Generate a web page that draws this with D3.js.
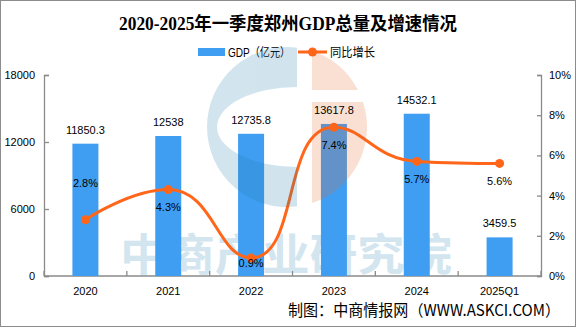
<!DOCTYPE html>
<html>
<head>
<meta charset="utf-8">
<script src="https://cdn.jsdelivr.net/npm/d3@7/dist/d3.min.js"></script>
<style>
  html, body { margin: 0; padding: 0; background: #fff; }
  svg { display: block; }
  text { font-family: "Liberation Sans", "Noto Sans CJK SC", sans-serif; fill: #000; }
</style>
</head>
<body>
<svg id="chart" width="576" height="327"></svg>
<script>
// ---- data ----
const categories = ["2020", "2021", "2022", "2023", "2024", "2025Q1"];
const gdpValues = [11850.3, 12538, 12735.8, 13617.8, 14532.1, 3459.5];
const gdpLabels = ["11850.3", "12538", "12735.8", "13617.8", "14532.1", "3459.5"];
const growthValues = [2.8, 4.3, 0.9, 7.4, 5.7, 5.6];
const growthLabels = ["2.8%", "4.3%", "0.9%", "7.4%", "5.7%", "5.6%"];
const leftTicks = [0, 6000, 12000, 18000];
const rightTicks = [0, 2, 4, 6, 8, 10];
const titleText = "2020-2025年一季度郑州GDP总量及增速情况";
const legendBar = "GDP（亿元）";
const legendLine = "同比增长";
const creditText = "制图：中商情报网（WWW.ASKCI.COM）";
const watermarkText = "中商产业研究院";

// ---- style / layout ----
const W = 576, H = 327;
const M = { left: 44, right: 541, top: 75, bottom: 276 };
const barColor = "#409EF2";
const lineColor = "#FF661A";
const axisColor = "#8a8a8a";
const growthLabelDy = [-37, 17, 5, 18, 18, 18];

const svg = d3.select("#chart");

// border
svg.append("rect").attr("x", 0.5).attr("y", 0.5).attr("width", W - 1).attr("height", H - 1)
  .attr("fill", "#fff").attr("stroke", "#8c8c8c").attr("stroke-width", 1);

const x = d3.scaleBand().domain(categories).range([M.left, M.right]).paddingInner(0).paddingOuter(0);
const yL = d3.scaleLinear().domain([0, 18000]).range([M.bottom, M.top]);
const yR = d3.scaleLinear().domain([0, 10]).range([M.bottom, M.top]);
const barW = x.bandwidth() * 0.314;
const cx = d => x(d) + x.bandwidth() / 2;

// title
svg.append("text").attr("x", 288).attr("y", 30).attr("text-anchor", "middle")
  .attr("font-size", 18).attr("font-weight", "bold")
  .attr("textLength", 338).attr("lengthAdjust", "spacingAndGlyphs")
  .style("font-family", "'Liberation Serif', 'Noto Sans CJK SC', serif")
  .text(titleText);

// legend
svg.append("rect").attr("x", 198).attr("y", 48).attr("width", 27).attr("height", 8).attr("fill", barColor);
svg.append("text").attr("x", 228).attr("y", 57).attr("font-size", 12)
  .attr("textLength", 62).attr("lengthAdjust", "spacingAndGlyphs").text(legendBar);
svg.append("line").attr("x1", 298).attr("x2", 327).attr("y1", 52).attr("y2", 52)
  .attr("stroke", lineColor).attr("stroke-width", 3);
svg.append("circle").attr("cx", 312.5).attr("cy", 52).attr("r", 4.5).attr("fill", lineColor);
svg.append("text").attr("x", 330).attr("y", 57).attr("font-size", 12)
  .attr("textLength", 45).attr("lengthAdjust", "spacingAndGlyphs").text(legendLine);

// watermark text (below bars)
svg.append("text").attr("x", 120).attr("y", 271).attr("font-size", 44).attr("font-weight", "bold")
  .attr("textLength", 332).attr("lengthAdjust", "spacingAndGlyphs")
  .style("fill", "#d3e5ef")
  .style("font-family", "'Noto Sans CJK SC', sans-serif")
  .text(watermarkText);

// axes
const gL = svg.append("g").attr("transform", `translate(${M.left},0)`)
  .call(d3.axisLeft(yL).tickValues(leftTicks).tickSize(-5).tickPadding(9).tickFormat(d3.format("d")));
const gR = svg.append("g").attr("transform", `translate(${M.right},0)`)
  .call(d3.axisRight(yR).tickValues(rightTicks).tickSize(-4).tickPadding(8).tickFormat(d => d + "%"));
const gB = svg.append("g").attr("transform", `translate(0,${M.bottom})`)
  .call(d3.axisBottom(x).tickSize(0).tickPadding(11));
[gL, gR, gB].forEach(g => {
  g.selectAll("path.domain").attr("stroke", axisColor).attr("stroke-width", 1.3);
  g.selectAll(".tick line").attr("stroke", axisColor).attr("stroke-width", 1.3);
  g.selectAll("text").attr("font-size", 11).attr("fill", "#000")
    .style("font-family", "'Liberation Sans', sans-serif");
});
gB.select("path.domain").attr("d", `M${M.left},0H${M.right}`);
// category boundary ticks (inward)
const bounds = categories.map(c => x(c)).concat([x(categories[categories.length - 1]) + x.bandwidth()]);
gB.selectAll("line.bound").data(bounds).enter().append("line").attr("class", "bound")
  .attr("x1", d => d).attr("x2", d => d).attr("y1", 0).attr("y2", -5)
  .attr("stroke", axisColor).attr("stroke-width", 1.3);

// bars
svg.append("g").selectAll("rect").data(gdpValues).enter().append("rect")
  .attr("x", (d, i) => cx(categories[i]) - barW / 2)
  .attr("y", d => yL(d))
  .attr("width", barW)
  .attr("height", d => yL(0) - yL(d))
  .attr("fill", barColor);

// smoothed line (ECharts-like smoothing)
const pts = growthValues.map((v, i) => [cx(categories[i]), yR(v)]);
function smoothPath(points, smooth) {
  const p = d3.path();
  let cpx0, cpy0, prevX, prevY;
  for (let k = 0; k < points.length; k++) {
    const [xx, yy] = points[k];
    if (k === 0) { p.moveTo(xx, yy); cpx0 = xx; cpy0 = yy; }
    else {
      let cpx1, cpy1, nextCpx0, nextCpy0;
      if (k + 1 >= points.length) { cpx1 = xx; cpy1 = yy; }
      else {
        const [nextX, nextY] = points[k + 1];
        let vx = nextX - prevX, vy = nextY - prevY;
        const dx0 = xx - prevX, dx1 = nextX - xx, dy0 = yy - prevY, dy1 = nextY - yy;
        const lenPrev = Math.sqrt(dx0 * dx0 + dy0 * dy0);
        const lenNext = Math.sqrt(dx1 * dx1 + dy1 * dy1);
        const ratio = lenNext / (lenNext + lenPrev);
        nextCpx0 = xx + vx * smooth * ratio;
        nextCpy0 = yy + vy * smooth * ratio;
        nextCpx0 = Math.max(Math.min(nextCpx0, Math.max(nextX, xx)), Math.min(nextX, xx));
        nextCpy0 = Math.max(Math.min(nextCpy0, Math.max(nextY, yy)), Math.min(nextY, yy));
        vx = nextCpx0 - xx; vy = nextCpy0 - yy;
        cpx1 = xx - vx * lenPrev / lenNext;
        cpy1 = yy - vy * lenPrev / lenNext;
        cpx1 = Math.max(Math.min(cpx1, Math.max(prevX, xx)), Math.min(prevX, xx));
        cpy1 = Math.max(Math.min(cpy1, Math.max(prevY, yy)), Math.min(prevY, yy));
        vx = xx - cpx1; vy = yy - cpy1;
        nextCpx0 = xx + vx * lenNext / lenPrev;
        nextCpy0 = yy + vy * lenNext / lenPrev;
      }
      p.bezierCurveTo(cpx0, cpy0, cpx1, cpy1, xx, yy);
      cpx0 = nextCpx0; cpy0 = nextCpy0;
    }
    prevX = xx; prevY = yy;
  }
  return p.toString();
}
svg.append("path").attr("d", smoothPath(pts, 0.5))
  .attr("fill", "none").attr("stroke", lineColor).attr("stroke-width", 3).attr("stroke-linecap", "round");
svg.append("g").selectAll("circle").data(pts).enter().append("circle")
  .attr("cx", d => d[0]).attr("cy", d => d[1]).attr("r", 4.5).attr("fill", lineColor);

// logo watermark (over marks)
const LX = 287, LY = 127, LR = 80;
const bx = 297, ox = 312;
const bdy = Math.sqrt(LR * LR - (bx - LX) * (bx - LX));
const odyTop = Math.sqrt(LR * LR - (ox - LX) * (ox - LX));
const cut1 = 90, cut2 = 102;
const dxCut1 = Math.sqrt(LR * LR - (LY - cut1) * (LY - cut1));
const dxCut2 = Math.sqrt(LR * LR - (LY - cut2) * (LY - cut2));
const logo = svg.append("g").attr("opacity", 0.2);
logo.append("path")
  .attr("d", `M${bx},${LY - bdy} A${LR},${LR} 0 1 0 ${bx},${LY + bdy} L${bx},${LY + 40} A80,40 0 0 1 ${bx},${LY - 40} Z`)
  .attr("fill", "rgb(30,120,170)");
logo.append("path")
  .attr("d", `M${ox},${LY - odyTop} A${LR},${LR} 0 0 1 ${LX + dxCut1},${cut1} L${ox},${cut1} Z
              M${ox},${cut2} L${LX + dxCut2},${cut2} A${LR},${LR} 0 0 1 ${ox},${LY + odyTop} Z`)
  .attr("fill", "rgb(235,100,40)");

// value labels
svg.append("g").selectAll("text").data(gdpValues).enter().append("text")
  .attr("x", (d, i) => cx(categories[i]))
  .attr("y", d => yL(d) - 10)
  .attr("text-anchor", "middle").attr("font-size", 11)
  .text((d, i) => gdpLabels[i]);
svg.append("g").selectAll("text").data(growthValues).enter().append("text")
  .attr("x", (d, i) => cx(categories[i]))
  .attr("y", (d, i) => yR(d) + growthLabelDy[i] + 4)
  .attr("text-anchor", "middle").attr("font-size", 11)
  .text((d, i) => growthLabels[i]);

// credit
svg.append("text").attr("x", 288).attr("y", 316).attr("font-size", 15.5)
  .attr("textLength", 272).attr("lengthAdjust", "spacingAndGlyphs")
  .style("font-family", "'Noto Sans CJK SC', sans-serif")
  .text(creditText);
</script>
</body>
</html>
